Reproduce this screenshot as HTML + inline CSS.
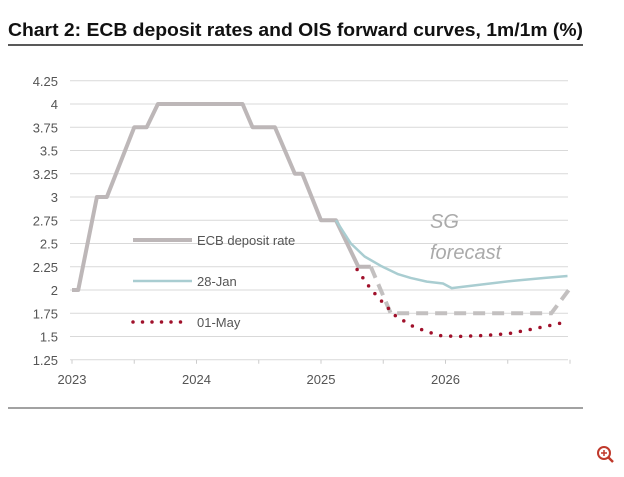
<!DOCTYPE html>
<html><head><meta charset="utf-8"><style>
body{margin:0;background:#fff;width:624px;height:472px;overflow:hidden;font-family:"Liberation Sans",sans-serif}
</style></head><body>
<svg width="624" height="472">
<text x="8" y="36" font-size="18" font-weight="bold" fill="#111" textLength="575" lengthAdjust="spacingAndGlyphs">Chart 2: ECB deposit rates and OIS forward curves, 1m/1m (%)</text>
<line x1="8" y1="45" x2="583" y2="45" stroke="#222" stroke-width="1.5"/>
<line x1="8" y1="408" x2="583" y2="408" stroke="#444" stroke-width="1"/>
<g id="grid"></g><g id="series"></g>
<text x="430" y="228" font-size="20" font-style="italic" fill="#aaa">SG</text>
<text x="430" y="259" font-size="20" font-style="italic" fill="#aaa">forecast</text>
<g>
<line x1="133" y1="240" x2="192" y2="240" stroke="#bdb7b8" stroke-width="4"/>
<text x="197" y="245" font-size="13" fill="#555">ECB deposit rate</text>
<line x1="133" y1="281" x2="192" y2="281" stroke="#a9cdd1" stroke-width="2.5"/>
<text x="197" y="286" font-size="13" fill="#555">28-Jan</text>
<line x1="133" y1="322" x2="190" y2="322" stroke="#a0112b" stroke-width="3.5" stroke-dasharray="0 9.5" stroke-linecap="round"/>
<text x="197" y="327" font-size="13" fill="#555">01-May</text>
</g>
<g><circle cx="604" cy="453" r="6" fill="none" stroke="#c0392b" stroke-width="2"/><line x1="608" y1="457" x2="613" y2="462" stroke="#c0392b" stroke-width="2.5"/><line x1="601" y1="453" x2="607" y2="453" stroke="#c0392b" stroke-width="1.5"/><line x1="604" y1="450" x2="604" y2="456" stroke="#c0392b" stroke-width="1.5"/></g>
</svg>
<script>
const yTicks=[1.25,1.5,1.75,2,2.25,2.5,2.75,3,3.25,3.5,3.75,4,4.25];
const xTicks=[2023,2024,2025,2026];
const ecbT=[2023.0,2023.05,2023.2,2023.28,2023.5,2023.6,2023.69,2024.37,2024.45,2024.63,2024.79,2024.85,2025.0,2025.12,2025.3,2025.4];
const ecbV=[2,2,3,3,3.75,3.75,4,4,3.75,3.75,3.25,3.25,2.75,2.75,2.25,2.25];
const sgT=[2025.4,2025.56,2026.85,2026.99];
const sgV=[2.25,1.75,1.75,2.0];
const janT=[2025.12,2025.24,2025.35,2025.48,2025.62,2025.72,2025.85,2025.98,2026.05,2026.3,2026.55,2026.8,2026.98];
const janV=[2.75,2.5,2.36,2.26,2.17,2.13,2.09,2.07,2.02,2.06,2.1,2.13,2.15];
const mayT=[2025.29,2025.4,2025.5,2025.6,2025.75,2025.95,2026.1,2026.3,2026.5,2026.7,2026.95];
const mayV=[2.22,2.01,1.86,1.72,1.6,1.51,1.5,1.51,1.53,1.58,1.65];
const X=t=>72+(t-2023)*124.5, Y=v=>290-(v-2)*93;
const NS="http://www.w3.org/2000/svg";
const g=document.getElementById('grid'), s=document.getElementById('series');
function mk(tag,attrs,p){const e=document.createElementNS(NS,tag);for(const k in attrs)e.setAttribute(k,attrs[k]);p.appendChild(e);return e;}
yTicks.forEach(v=>{
 if(v>1.25){const l=mk('line',{x1:70,x2:568,y1:Y(v),y2:Y(v),stroke:'#d9d9d9','stroke-width':1},g);
 
 }
 const t=mk('text',{x:58,y:Y(v)+5,'text-anchor':'end','font-size':13,fill:'#555'},g);t.textContent=v;
 
 
});
const ax=mk('line',{x1:70,x2:568,y1:Y(1.25),y2:Y(1.25),stroke:'#d9d9d9'},g);


for(let i=0;i<=8;i++){mk('line',{x1:X(2023+i/2),x2:X(2023+i/2),y1:Y(1.25),y2:Y(1.25)+4,stroke:'#ccc'},g);}
xTicks.forEach(t=>{const e=mk('text',{x:X(t),y:384,'text-anchor':'middle','font-size':13,fill:'#555'},g);e.textContent=t;
 
 });
const pts=(T,V)=>T.map((t,i)=>X(t)+','+Y(V[i])).join(' ');
const a=mk('polyline',{points:pts(ecbT,ecbV),fill:'none',stroke:'#bdb7b8','stroke-width':4,'stroke-linejoin':'round'},s);


const b=mk('polyline',{points:pts(sgT,sgV),fill:'none',stroke:'#c3c0c0','stroke-width':4,'stroke-dasharray':'12 7'},s);


const c=mk('polyline',{points:pts(janT,janV),fill:'none',stroke:'#a9cdd1','stroke-width':2.5,'stroke-linejoin':'round'},s);


const d=mk('polyline',{points:pts(mayT,mayV),fill:'none',stroke:'#a0112b','stroke-width':3.5,'stroke-dasharray':'0 10','stroke-linecap':'round'},s);


</script>
</body></html>
